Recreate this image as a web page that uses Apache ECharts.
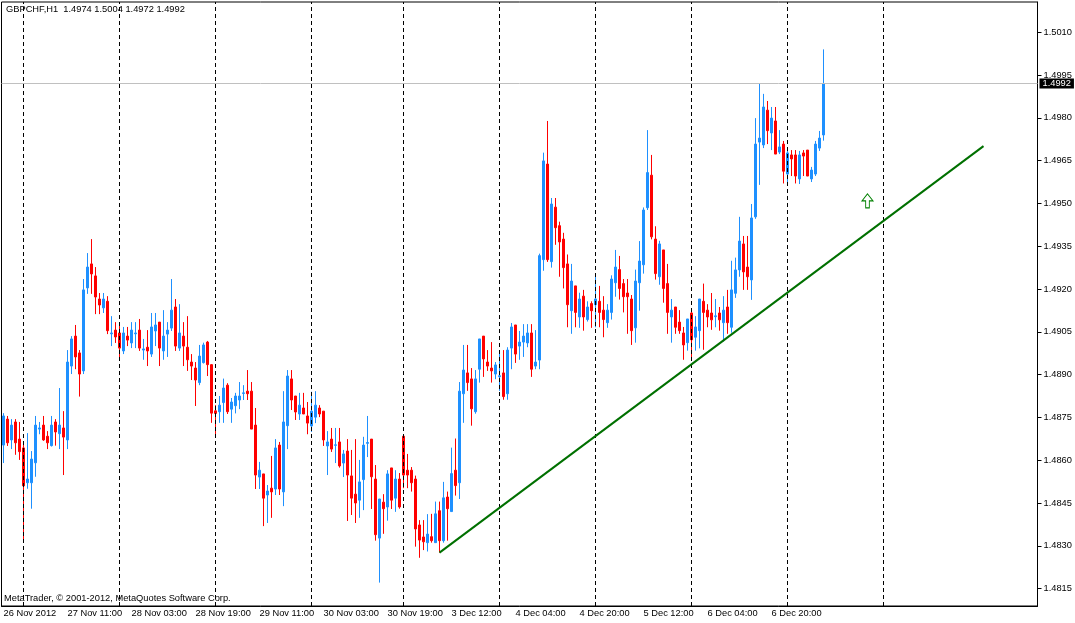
<!DOCTYPE html>
<html>
<head>
<meta charset="utf-8">
<title>GBPCHF,H1</title>
<script src="https://cdn.jsdelivr.net/npm/echarts@6/dist/echarts.min.js"></script>
<style>
html,body{margin:0;padding:0;background:#fff;}
#main{width:1075px;height:623px;}
</style>
</head>
<body>
<div id="main"></div>
<script>
// hourly bars, 26 Nov 2012 19:00 .. 7 Dec 2012 09:00
let opens=[1.48653,1.48744,1.48671,1.48734,1.48674,1.48643,1.48521,1.48521,1.48591,1.48709,
1.48723,1.48684,1.48651,1.48734,1.48693,1.48713,1.48671,1.48930,1.49035,1.48976,
1.48913,1.49204,1.49288,1.49246,1.49165,1.49134,1.49157,1.49043,1.49056,1.49046,
1.48983,1.49035,1.49011,1.49043,1.49056,1.48986,1.48996,1.48972,1.49053,1.49084,
1.48983,1.49042,1.49063,1.49137,1.48993,1.49035,1.48996,1.48944,1.48923,1.48872,
1.48942,1.49014,1.48935,1.48773,1.48770,1.48802,1.48863,1.48779,1.48791,1.48811,
1.48834,1.48842,1.48842,1.48723,1.48541,1.48552,1.48478,1.48502,1.48499,1.48653,
1.48489,1.48721,1.48885,1.48825,1.48762,1.48783,1.48755,1.48720,1.48751,1.48783,
1.48772,1.48650,1.48674,1.48652,1.48664,1.48590,1.48632,1.48545,1.48481,1.48460,
1.48532,1.48659,1.48674,1.48534,1.48327,1.48453,1.48436,1.48573,1.48467,1.48534,
1.48684,1.48565,1.48565,1.48534,1.48373,1.48331,1.48311,1.48332,1.48311,1.48423,
1.48318,1.48471,1.48420,1.48565,1.48521,1.48833,1.48906,1.48885,1.48770,1.48919,
1.49035,1.48944,1.48923,1.48902,1.48893,1.48906,1.48833,1.48993,1.49074,1.49000,
1.49014,1.49011,1.49046,1.48930,1.48951,1.49303,1.49638,1.49296,1.49487,1.49422,
1.49375,1.49288,1.49124,1.49211,1.49102,1.49175,1.49093,1.49149,1.49145,1.49157,
1.49126,1.49082,1.49118,1.49222,1.49268,1.49219,1.49186,1.49165,1.49064,1.49222,
1.49285,1.49485,1.49599,1.49375,1.49243,1.49337,1.49219,1.49102,1.49137,1.49084,
1.49046,1.49012,1.49116,1.49031,1.49054,1.49157,1.49126,1.49116,1.49103,1.49116,
1.49082,1.49137,1.49066,1.49185,1.49267,1.49358,1.49277,1.49232,1.49453,1.49715,
1.49705,1.49827,1.49747,1.49789,1.49680,1.49708,1.49603,1.49670,1.49670,1.49586,
1.49677,1.49687,1.49586,1.49603,1.49694,1.4974]
let closes=[1.48755,1.48661,1.48723,1.48661,1.48630,1.48510,1.48534,1.48604,1.48723,1.48713,
1.48671,1.48661,1.48723,1.48699,1.48723,1.48681,1.48944,1.49025,1.48962,1.48902,
1.49197,1.49277,1.49253,1.49172,1.49144,1.49165,1.49054,1.49046,1.49032,1.48993,
1.49046,1.49021,1.49056,1.49046,1.48993,1.48990,1.48983,1.49067,1.49074,1.48993,
1.49035,1.49056,1.49126,1.49000,1.49046,1.49000,1.48952,1.48930,1.48881,1.48965,
1.49004,1.48935,1.48765,1.48764,1.48793,1.48853,1.48770,1.48804,1.48825,1.48825,
1.48836,1.48833,1.48709,1.48548,1.48565,1.48467,1.48492,1.48489,1.48643,1.48499,
1.48734,1.48895,1.48811,1.48769,1.48793,1.48762,1.48730,1.48772,1.48793,1.48762,
1.48671,1.48664,1.48639,1.48654,1.48580,1.48622,1.48548,1.48467,1.48450,1.48524,
1.48653,1.48662,1.48542,1.48339,1.48464,1.48430,1.48552,1.48460,1.48534,1.48436,
1.48548,1.48548,1.48521,1.48359,1.48320,1.48314,1.48341,1.48318,1.48412,1.48318,
1.48468,1.48430,1.48553,1.48511,1.48842,1.48916,1.48872,1.48780,1.48885,1.49025,
1.48955,1.48930,1.48913,1.48934,1.48896,1.48823,1.48986,1.49067,1.48972,1.49014,
1.49035,1.49046,1.48919,1.48944,1.49317,1.49649,1.49303,1.49498,1.49415,1.49365,
1.49275,1.49145,1.49228,1.49118,1.49165,1.49102,1.49137,1.49124,1.49165,1.49118,
1.49093,1.49126,1.49235,1.49277,1.49202,1.49173,1.49173,1.49054,1.49228,1.49298,
1.49477,1.49608,1.49383,1.49254,1.49358,1.49202,1.49118,1.49126,1.49066,1.49054,
1.49004,1.49095,1.49022,1.49067,1.49165,1.49118,1.49102,1.49092,1.49106,1.49092,
1.49126,1.49082,1.49197,1.49267,1.49368,1.49260,1.49243,1.49449,1.49708,1.49729,
1.49838,1.49755,1.49799,1.49673,1.49698,1.49613,1.49677,1.49656,1.49596,1.49670,
1.49666,1.49596,1.49617,1.49708,1.49729,1.4992]
let lows=[1.48590,1.48650,1.48639,1.48619,1.48601,1.48314,1.48500,1.48430,1.48542,1.48691,
1.48668,1.48639,1.48648,1.48651,1.48639,1.48548,1.48639,1.48902,1.48919,1.48823,
1.48902,1.49183,1.49183,1.49112,1.49112,1.49116,1.49042,1.49000,1.49011,1.48959,
1.48972,1.49000,1.48993,1.48993,1.48983,1.48952,1.48930,1.48962,1.49000,1.48930,
1.48952,1.48962,1.49053,1.48983,1.48983,1.48930,1.48913,1.48881,1.48790,1.48863,
1.48939,1.48895,1.48731,1.48681,1.48731,1.48731,1.48762,1.48731,1.48764,1.48779,
1.48811,1.48811,1.48709,1.48499,1.48499,1.48369,1.48380,1.48398,1.48478,1.48478,
1.48439,1.48639,1.48776,1.48741,1.48741,1.48762,1.48691,1.48699,1.48730,1.48751,
1.48650,1.48548,1.48629,1.48590,1.48574,1.48541,1.48387,1.48408,1.48380,1.48398,
1.48425,1.48611,1.48429,1.48318,1.48171,1.48342,1.48388,1.48429,1.48419,1.48430,
1.48502,1.48502,1.48490,1.48297,1.48258,1.48285,1.48280,1.48311,1.48311,1.48276,
1.48311,1.48318,1.48420,1.48476,1.48464,1.48731,1.48843,1.48721,1.48763,1.48872,
1.48892,1.48913,1.48872,1.48884,1.48843,1.48812,1.48812,1.48919,1.48941,1.48952,
1.48962,1.48996,1.48892,1.48919,1.48919,1.49264,1.49295,1.49275,1.49355,1.49243,
1.49202,1.49066,1.49043,1.49066,1.49064,1.49054,1.49086,1.49064,1.49066,1.49066,
1.49031,1.49064,1.49093,1.49173,1.49163,1.49118,1.49043,1.49004,1.49012,1.49124,
1.49254,1.49477,1.49374,1.49233,1.49215,1.49152,1.49043,1.49012,1.49043,1.49043,
1.48952,1.48984,1.48952,1.48984,1.48992,1.48987,1.49066,1.49057,1.49066,1.49054,
1.49016,1.49043,1.49047,1.49169,1.49243,1.49197,1.49197,1.49162,1.49446,1.49565,
1.49694,1.49708,1.49687,1.49673,1.49673,1.49570,1.49570,1.49596,1.49570,1.49568,
1.49596,1.49596,1.49575,1.49596,1.49684,1.4972]
let highs=[1.48765,1.48755,1.48744,1.48744,1.48734,1.48664,1.48695,1.48632,1.48755,1.48734,
1.48755,1.48702,1.48755,1.48744,1.48853,1.48772,1.48986,1.49035,1.49074,1.48986,
1.49235,1.49326,1.49375,1.49277,1.49186,1.49186,1.49175,1.49105,1.49084,1.49074,
1.49067,1.49067,1.49084,1.49084,1.49095,1.49025,1.49056,1.49116,1.49116,1.49084,
1.49126,1.49084,1.49235,1.49165,1.49147,1.49084,1.49105,1.48972,1.48944,1.49004,
1.49012,1.49018,1.48937,1.48793,1.48825,1.48886,1.48870,1.48818,1.48836,1.48874,
1.48863,1.48916,1.48874,1.48783,1.48594,1.48552,1.48513,1.48615,1.48674,1.48664,
1.48842,1.48916,1.48916,1.48825,1.48836,1.48836,1.48804,1.48840,1.48842,1.48793,
1.48772,1.48702,1.48713,1.48713,1.48713,1.48636,1.48674,1.48636,1.48674,1.48601,
1.48682,1.48755,1.48674,1.48583,1.48464,1.48481,1.48565,1.48573,1.48565,1.48555,
1.48684,1.48622,1.48576,1.48546,1.48390,1.48390,1.48411,1.48412,1.48455,1.48455,
1.48524,1.48490,1.48644,1.48676,1.48874,1.49004,1.49004,1.48923,1.48916,1.49025,
1.49035,1.48986,1.49014,1.48944,1.48986,1.48986,1.48996,1.49081,1.49074,1.49053,
1.49077,1.49077,1.49077,1.49056,1.49324,1.49678,1.49789,1.49519,1.49519,1.49436,
1.49397,1.49321,1.49288,1.49211,1.49187,1.49197,1.49157,1.49157,1.49248,1.49211,
1.49175,1.49147,1.49248,1.49337,1.49316,1.49235,1.49235,1.49179,1.49268,1.49368,
1.49486,1.49757,1.49670,1.49420,1.49369,1.49337,1.49288,1.49165,1.49137,1.49126,
1.49067,1.49095,1.49126,1.49105,1.49165,1.49219,1.49147,1.49186,1.49165,1.49137,
1.49175,1.49197,1.49299,1.49310,1.49453,1.49386,1.49386,1.49498,1.49799,1.49919,
1.49884,1.49859,1.49838,1.49838,1.49757,1.49719,1.49687,1.49687,1.49687,1.49684,
1.49687,1.49687,1.49628,1.49719,1.49754,1.5004]

// axis labels every 16 bars
let timeLabels=['26 Nov 2012','27 Nov 11:00','28 Nov 03:00','28 Nov 19:00','29 Nov 11:00',
'30 Nov 03:00','30 Nov 19:00','3 Dec 12:00','4 Dec 04:00','4 Dec 20:00','5 Dec 12:00',
'6 Dec 04:00','6 Dec 20:00']
let priceTicks=[1.4815,1.4830,1.4845,1.4860,1.4875,1.4890,1.4905,1.4920,1.4935,1.4950,1.4965,1.4980,1.4995,1.5010]
// first bar of each day (period separators)
let dayStarts=[5,29,53,77,100,124,148,172,196,220]
let lastPrice=1.4992
let trendFrom=[109,1.48276]
let trendTo=[245,1.49701]
let arrowAt=[216,1.49509]

let barCount=259   // bars + empty space on the right
let cats=[]
for(let i=0;i<barCount;i++){cats.push(String(i))}

let candles=[]
for(let i=0;i<opens.length;i++){
    candles.push([opens[i],closes[i],lows[i],highs[i]])
}

let font='"Liberation Sans", Arial, sans-serif'
let fs=9.3

let everyLabel=function(i){return i%16===0&&i/16<timeLabels.length}

var myChart=echarts.init(document.getElementById('main'))
var option={
    animation:false,
    backgroundColor:'#fff',
    grid:{
        left:1.5,right:37.5,top:2,bottom:17,
        show:true,borderColor:'#000',borderWidth:1,backgroundColor:'#fff'
    },
    graphic:[
        {type:'text',left:6,top:5,style:{text:'GBPCHF,H1  1.4974 1.5004 1.4972 1.4992',font:fs+'px '+font,fill:'#000'}},
        {type:'text',left:4,top:594,style:{text:'MetaTrader, © 2001-2012, MetaQuotes Software Corp.',font:fs+'px '+font,fill:'#000'}}
    ],
    xAxis:{
        type:'category',
        data:cats,
        boundaryGap:true,
        axisLine:{lineStyle:{color:'#000',width:1}},
        axisTick:{
            alignWithLabel:true,
            length:4,
            lineStyle:{color:'#000'},
            interval:everyLabel
        },
        axisLabel:{
            interval:everyLabel,
            formatter:function(v,i){return timeLabels[i/16]||''},
            align:'left',
            margin:3,
            color:'#000',
            fontFamily:font,
            fontSize:fs
        },
        splitLine:{show:false}
    },
    yAxis:{
        type:'value',
        position:'right',
        scale:true,
        min:1.48089,
        max:1.50206,
        axisLine:{show:true,lineStyle:{color:'#000',width:1}},
        axisTick:{show:true,length:4,customValues:priceTicks,lineStyle:{color:'#000'}},
        axisLabel:{
            customValues:priceTicks,
            formatter:function(v){return v.toFixed(4)},
            margin:6,
            color:'#000',
            fontFamily:font,
            fontSize:fs
        },
        splitLine:{show:false}
    },
    series:[
    {
        // period separators, bid line, trend line, arrow
        type:'line',
        data:[],
        silent:true,
        markLine:{
            silent:true,
            precision:6,
            symbol:['none','none'],
            animation:false,
            label:{show:false},
            data:dayStarts.map(function(d){
                return {xAxis:String(d),lineStyle:{color:'#000',width:1,type:[4,3]}}
            }).concat([
                {
                    yAxis:lastPrice,
                    lineStyle:{color:'#C0C0C0',width:1,type:'solid'},
                    label:{
                        show:true,position:'end',distance:2,
                        formatter:lastPrice.toFixed(4),
                        backgroundColor:'#000',color:'#fff',
                        padding:[1,3,0,3],
                        fontFamily:font,fontSize:fs
                    }
                },
                [
                    {coord:[String(trendFrom[0]),trendFrom[1]],lineStyle:{color:'#007000',width:2,type:'solid'}},
                    {coord:[String(trendTo[0]),trendTo[1]]}
                ]
            ])
        },
        markPoint:{
            silent:true,
            animation:false,
            label:{show:false},
            data:[{
                coord:[String(arrowAt[0]),arrowAt[1]],
                symbol:'path://M6,0 L12,7 L8,7 L8,14 L4,14 L4,7 L0,7 Z',
                symbolSize:[11,14],
                itemStyle:{color:'#fff',borderColor:'#008000',borderWidth:1}
            }]
        }
    },
    {
        type:'candlestick',
        data:candles,
        barWidth:2,
        itemStyle:{
            color:'#1E90FF',
            color0:'#FF0000',
            borderColor:'#1E90FF',
            borderColor0:'#FF0000',
            borderWidth:1
        }
    }]
}
myChart.setOption(option)
</script>
</body>
</html>
